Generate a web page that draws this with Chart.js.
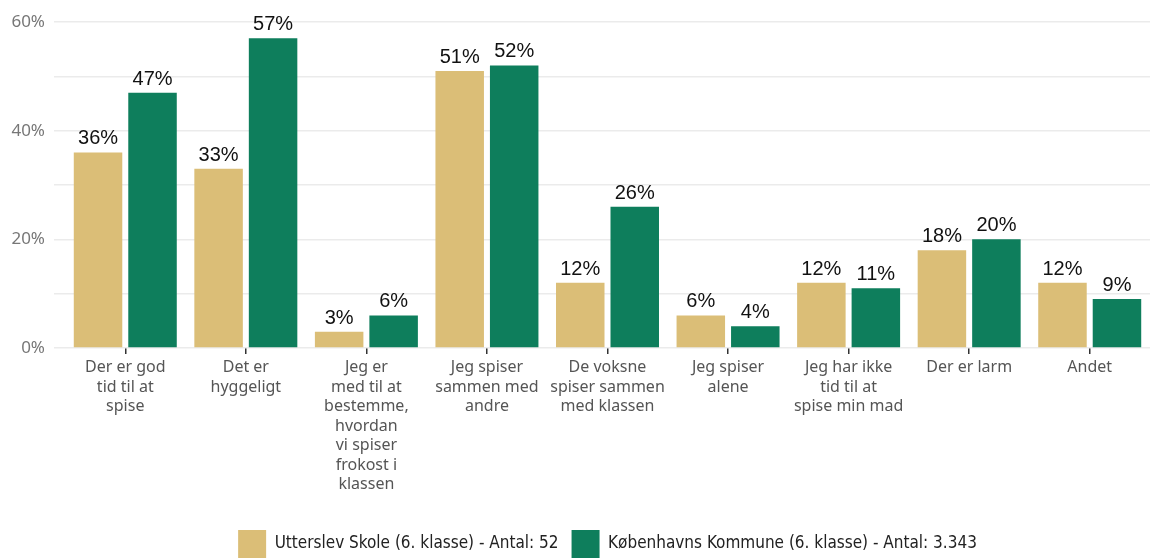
<!DOCTYPE html>
<html>
<head>
<meta charset="utf-8">
<script src="https://cdn.jsdelivr.net/npm/chart.js@4.4.1/dist/chart.umd.min.js"></script>
<style>
  html, body { margin: 0; padding: 0; background: #fff; overflow: hidden; height: 558px; }
  #wrap { width: 1150px; height: 568px; position: relative; }
</style>
</head>
<body>
<div id="wrap"><canvas id="frokostChart"></canvas></div>
<script>
// Kategorier (flere linjer pr. label)
const categories = [
    ['Der er god', 'tid til at', 'spise'],
    ['Det er', 'hyggeligt'],
    ['Jeg er', 'med til at', 'bestemme,', 'hvordan', 'vi spiser', 'frokost i', 'klassen'],
    ['Jeg spiser', 'sammen med', 'andre'],
    ['De voksne', 'spiser sammen', 'med klassen'],
    ['Jeg spiser', 'alene'],
    ['Jeg har ikke', 'tid til at', 'spise min mad'],
    ['Der er larm'],
    ['Andet']
];
const skoleValues = [36, 33, 3, 51, 12, 6, 12, 18, 12];
const kommuneValues = [47, 57, 6, 52, 26, 4, 11, 20, 9];
const seriesNames = [
    'Utterslev Skole (6. klasse) - Antal: 52',
    'Københavns Kommune (6. klasse) - Antal: 3.343'
];
const yTickLabels = { 0: '0%', 20: '20%', 40: '40%', 60: '60%' };

const TAN = '#DBBE77';
const GREEN = '#0E7E5C';

// procent-tal over hver søjle
const valueLabels = {
    id: 'valueLabels',
    afterDatasetsDraw(chart) {
        const ctx = chart.ctx;
        ctx.save();
        ctx.font = '20px "Liberation Sans", Arial, sans-serif';
        ctx.fillStyle = '#111';
        ctx.textAlign = 'center';
        ctx.textBaseline = 'alphabetic';
        chart.data.datasets.forEach((ds, i) => {
            chart.getDatasetMeta(i).data.forEach((bar, j) => {
                ctx.fillText(ds.data[j] + '%', bar.x, bar.y - 8);
            });
        });
        ctx.restore();
    }
};

new Chart(document.getElementById('frokostChart'), {
    type: 'bar',
    data: {
        labels: categories,
        datasets: [
            { label: seriesNames[0], data: skoleValues, backgroundColor: TAN },
            { label: seriesNames[1], data: kommuneValues, backgroundColor: GREEN }
        ]
    },
    options: {
        responsive: true,
        maintainAspectRatio: false,
        animation: false,
        categoryPercentage: 0.904,
        barPercentage: 0.89,
        layout: { padding: { top: 22, right: 0, left: 0, bottom: 0 } },
        plugins: {
            tooltip: { enabled: false },
            legend: {
                position: 'bottom',
                fullSize: false,
                labels: {
                    boxWidth: 28,
                    boxHeight: 28,
                    padding: 13,
                    color: '#222',
                    font: { size: 17, family: '"Liberation Sans Narrow", "DejaVu Sans Condensed", sans-serif' }
                }
            }
        },
        scales: {
            x: {
                grid: { drawOnChartArea: false, drawTicks: true, tickLength: 6, offset: false, color: '#333', lineWidth: 1.5 },
                border: { display: false },
                ticks: {
                    color: '#555',
                    padding: 4,
                    maxRotation: 0,
                    autoSkip: false,
                    font: { size: 16, family: '"Noto Sans", sans-serif', lineHeight: 1.22 }
                },
                afterFit(scale) { scale.height = 169; }
            },
            y: {
                min: 0,
                max: 60,
                grid: { color: '#EBEBEB', lineWidth: 1.5, drawTicks: true, tickLength: 11 },
                border: { display: false },
                ticks: {
                    stepSize: 10,
                    padding: 9,
                    color: '#777',
                    font: { size: 17, family: '"Noto Sans", sans-serif' },
                    callback: v => yTickLabels[v] || ''
                },
                afterFit(scale) { scale.width = 65; }
            }
        }
    },
    plugins: [valueLabels]
});
</script>
</body>
</html>
